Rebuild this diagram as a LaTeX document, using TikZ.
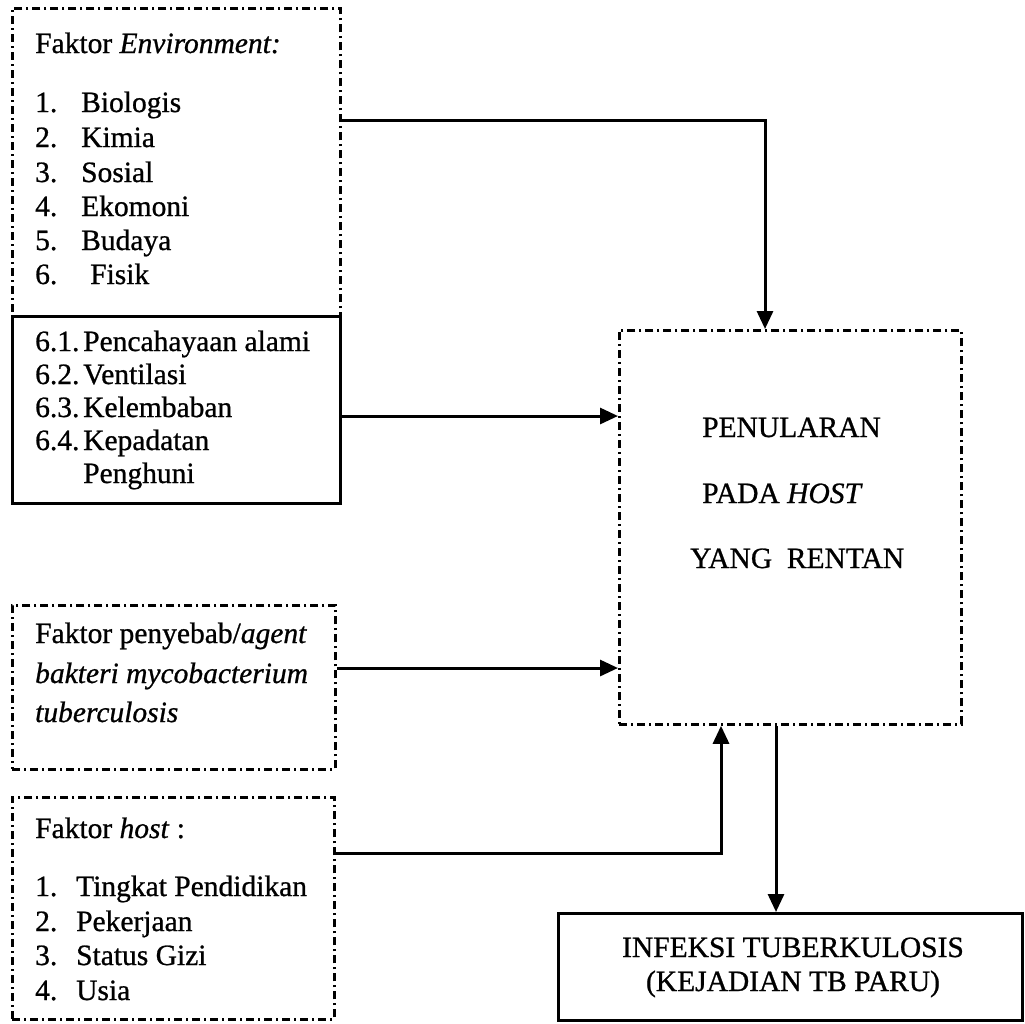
\documentclass[tikz,border=0pt]{standalone}
\usepackage{fontspec}
\setmainfont{Liberation Serif}[FakeBold=0.8, ItalicFeatures={FakeBold=0.8}]
\usetikzlibrary{arrows.meta}
\begin{document}
\begin{tikzpicture}[x=1pt,y=-1pt,
  dd/.style={draw, line width=2.8pt, dash pattern=on 8pt off 4pt on 2pt off 4pt},
  sd/.style={draw, line width=2.8pt},
  box/.style={rectangle, inner sep=0pt, anchor=north west},
  txt/.style={anchor=base west, inner sep=0pt, font=\fontsize{29.5}{34}\selectfont},
  ctxt/.style={anchor=base, inner sep=0pt, font=\fontsize{29.5}{34}\selectfont},
  arr/.style={line width=3pt, -{Triangle[length=18pt,width=16pt]}}]
\useasboundingbox (0,0) rectangle (1025,1023);

% boxes
\node[box, dd, minimum width=328pt, minimum height=308pt] (env) at (11,7) {};
\node[box, sd, minimum width=328pt, minimum height=187pt] (phys) at (11,315) {};
\node[box, dd, minimum width=323pt, minimum height=164pt] (agent) at (11,604) {};
\node[box, dd, minimum width=322pt, minimum height=222pt] (host) at (11,796) {};
\node[box, dd, minimum width=342pt, minimum height=394pt] (pen) at (618,329) {};
\node[box, sd, minimum width=464pt, minimum height=107pt] (inf) at (557,912) {};

% environment text
\node[txt] (e0) at (35,53) {Faktor \textit{Environment:}};
\node[txt] (e1) at (35,112) {\makebox[46pt][l]{1.}Biologis};
\node[txt] (e2) at (35,147) {\makebox[46pt][l]{2.}Kimia};
\node[txt] (e3) at (35,182) {\makebox[46pt][l]{3.}Sosial};
\node[txt] (e4) at (35,216) {\makebox[46pt][l]{4.}Ekomoni};
\node[txt] (e5) at (35,250) {\makebox[46pt][l]{5.}Budaya};
\node[txt] (e6) at (35,284) {\makebox[55pt][l]{6.}Fisik};

% physical sub-factors
\node[txt] (p1) at (35,351) {\makebox[48pt][l]{6.1.}Pencahayaan alami};
\node[txt] (p2) at (35,384) {\makebox[48pt][l]{6.2.}Ventilasi};
\node[txt] (p3) at (35,417) {\makebox[48pt][l]{6.3.}Kelembaban};
\node[txt] (p4) at (35,450) {\makebox[48pt][l]{6.4.}Kepadatan};
\node[txt] (p5) at (83,483) {Penghuni};

% agent text
\node[txt] (a1) at (35,643) {Faktor penyebab/\textit{agent}};
\node[txt] (a2) at (35,683) {\textit{bakteri mycobacterium}};
\node[txt] (a3) at (35,722) {\textit{tuberculosis}};

% host text
\node[txt] (h0) at (35,838) {Faktor \textit{host} :};
\node[txt] (h1) at (35,896) {\makebox[41pt][l]{1.}Tingkat Pendidikan};
\node[txt] (h2) at (35,931) {\makebox[41pt][l]{2.}Pekerjaan};
\node[txt] (h3) at (35,965) {\makebox[41pt][l]{3.}Status Gizi};
\node[txt] (h4) at (35,1000) {\makebox[41pt][l]{4.}Usia};

% central box text
\node[txt] (c1) at (702,437) {PENULARAN};
\node[txt] (c2) at (702,503) {PADA \textit{HOST}};
\node[txt] (c3) at (690,568) {YANG\ \ RENTAN};

% outcome text
\node[ctxt] (o1) at (793,957) {INFEKSI TUBERKULOSIS};
\node[ctxt] (o2) at (793,991) {(KEJADIAN TB PARU)};

% connectors
\draw[arr] (env.east |- 0,120) -| (pen.north -| 765,0);
\draw[arr] (phys.east |- 0,416) -- (pen.west |- 0,416);
\draw[arr] (agent.east |- 0,668) -- (pen.west |- 0,668);
\draw[arr] (host.east |- 0,853) -| (pen.south -| 721,0);
\draw[arr] (pen.south -| 776,0) -- (inf.north -| 776,0);
\end{tikzpicture}
\end{document}
